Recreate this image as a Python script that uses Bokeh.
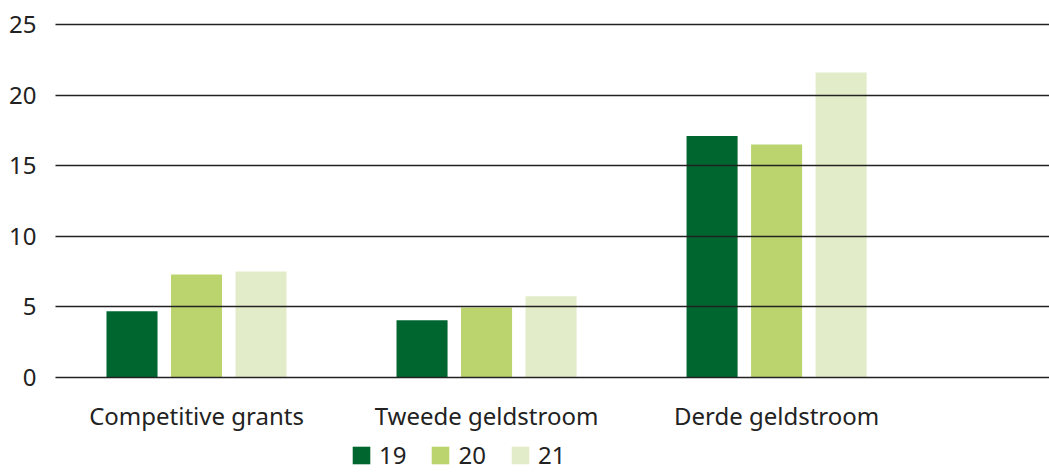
from bokeh.plotting import figure
from bokeh.models import ColumnDataSource, FixedTicker, Legend, LegendItem, Range1d
from bokeh.core.properties import value
from bokeh.embed import file_html
from bokeh.resources import INLINE
import numpy as np

categories = ["Competitive grants", "Tweede geldstroom", "Derde geldstroom"]
series_names = ["19", "20", "21"]
values_19 = [4.7, 4.05, 17.1]
values_20 = [7.3, 4.95, 16.5]
values_21 = [7.5, 5.75, 21.6]
y_ticks = [0, 5, 10, 15, 20, 25]
colors = ["#006630", "#bcd46e", "#e3ecc8"]

FONT = "Noto Sans"
TEXT = "#222222"

p = figure(width=1049, height=473, output_backend="svg", toolbar_location=None,
           x_range=Range1d(-0.4862, 2.941), y_range=Range1d(-6.799, 25.283),
           min_border_left=55, min_border_right=0, min_border_top=20, min_border_bottom=0)
p.outline_line_color = None
p.background_fill_color = "white"
p.border_fill_color = "white"

group_x = np.arange(len(categories))
offsets = [-0.2224, 0.0, 0.2224]
all_vals = [values_19, values_20, values_21]
renderers = []
for vals, off, c in zip(all_vals, offsets, colors):
    src = ColumnDataSource(dict(x=group_x + off, top=vals))
    r = p.vbar(x="x", top="top", width=0.176, source=src, fill_color=c, line_color=None)
    renderers.append(r)

# category labels under the groups
cat_src = ColumnDataSource(dict(x=group_x, y=[-2.69] * len(categories), text=categories))
p.text(x="x", y="y", text="text", source=cat_src, text_align="center", text_baseline="middle",
       text_font=value(FONT), text_font_size="24px", text_color=TEXT)

p.xgrid.visible = False
p.xaxis.visible = False
p.ygrid.ticker = FixedTicker(ticks=y_ticks)
p.ygrid.grid_line_color = "#222222"
p.ygrid.grid_line_width = 1.5
p.ygrid.level = "overlay"

p.yaxis.ticker = FixedTicker(ticks=y_ticks)
p.yaxis.axis_line_color = None
p.yaxis.major_tick_line_color = None
p.yaxis.minor_tick_line_color = None
p.yaxis.major_tick_out = 0
p.yaxis.major_label_standoff = 19
p.yaxis.major_label_text_font = FONT
p.yaxis.major_label_text_font_size = "24px"
p.yaxis.major_label_text_color = TEXT

legend = Legend(items=[LegendItem(label=n, renderers=[r]) for n, r in zip(series_names, renderers)],
                orientation="horizontal", location=(295, 2),
                glyph_width=22, glyph_height=22, label_standoff=7, spacing=23,
                padding=0, margin=0, border_line_color=None, background_fill_alpha=0,
                label_text_font=FONT, label_text_font_size="24px", label_text_color=TEXT,
                label_height=22)
p.add_layout(legend, "center")

open("out.html", "w").write(file_html(p, INLINE))
